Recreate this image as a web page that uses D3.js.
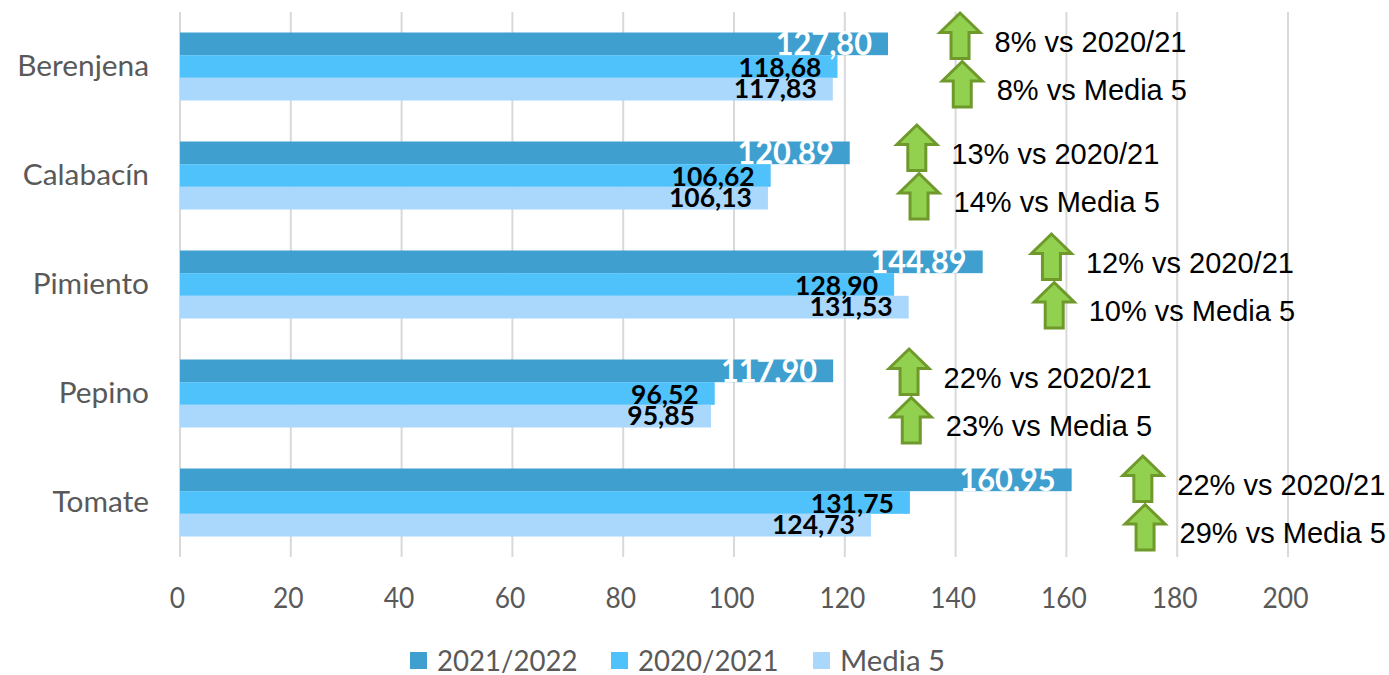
<!DOCTYPE html>
<html><head><meta charset="utf-8">
<script src="https://cdnjs.cloudflare.com/ajax/libs/d3/7.8.5/d3.min.js"></script>
<style>html,body{margin:0;padding:0;background:#fff}svg{display:block}</style>
</head><body><svg id="c" width="1389" height="675"></svg>
<script>
const categories = ["Berenjena","Calabacín","Pimiento","Pepino","Tomate"];
const seriesNames = ["2021/2022","2020/2021","Media 5"];
const v2122 = [127.80,120.89,144.89,117.90,160.95];
const v2021 = [118.68,106.62,128.90,96.52,131.75];
const vMedia = [117.83,106.13,131.53,95.85,124.73];
const pctPrev = [8,13,12,22,22];
const pctMedia = [8,14,10,23,29];
const arrowPrev = [140.8,133.0,157.3,131.6,173.8];
const arrowMedia = [141.2,133.4,157.8,132.0,174.2];
const noteShift = [0,3,3,9,7];
const ticks = [0,20,40,60,80,100,120,140,160,180,200];
const colors = ["#3FA0CF","#4FC1FB","#A9D8FC"];
const labelColors = ["#fff","#000","#000"];

const svg = d3.select("#c");
const L=180,R=1288,T=12,B=557;
const x = d3.scaleLinear().domain([0,200]).range([L,R]);
const y = d3.scaleBand().domain(categories).range([T,B]).paddingInner(41/109).paddingOuter(20.5/109);
const yS = d3.scaleBand().domain(seriesNames).range([0,y.bandwidth()]);
const f = d3.formatLocale({decimal:",",thousands:".",grouping:[3],currency:["","€"]}).format(".2f");
const FONT = "Lato, 'Open Sans', sans-serif";
function condense(sel,k){
  sel.each(function(){
    const t=d3.select(this);
    t.attr("textLength",this.getComputedTextLength()*k).attr("lengthAdjust","spacingAndGlyphs");
  });
}

svg.append("g").selectAll("line").data(ticks).join("line")
  .attr("x1",d=>x(d)).attr("x2",d=>x(d)).attr("y1",T).attr("y2",B)
  .attr("stroke","#D9D9D9").attr("stroke-width",2);

const series = [v2122,v2021,vMedia];
series.forEach((vals,si)=>{
  svg.append("g").selectAll("rect").data(vals).join("rect")
    .attr("x",x(0)).attr("width",d=>x(d)-x(0))
    .attr("y",(d,i)=>y(categories[i])+yS(seriesNames[si]))
    .attr("height",yS.bandwidth()).attr("fill",colors[si]);
});

const ax = svg.append("g").attr("transform",`translate(0,${B})`)
  .call(d3.axisBottom(x).tickValues(ticks).tickSize(0).tickPadding(31).tickFormat(d3.format("d")));
ax.select(".domain").remove();
ax.selectAll("text").attr("font-family",FONT).attr("font-size",28).attr("fill","#595959").attr("dx",-3).call(condense,0.94);

const ay = svg.append("g").attr("transform",`translate(${L},0)`)
  .call(d3.axisLeft(y).tickSize(0).tickPadding(31));
ay.select(".domain").remove();
ay.selectAll("text").attr("font-family",FONT).attr("font-size",28).attr("fill","#595959").attr("dy","0.34em").call(condense,1.065);

const labelBase=[11,10.5,8.5];
series.forEach((vals,si)=>{
  svg.append("g").selectAll("text").data(vals).join("text")
    .attr("x",d=>x(d)-16)
    .attr("y",(d,i)=>y(categories[i])+yS(seriesNames[si])+yS.bandwidth()/2+labelBase[si])
    .attr("text-anchor","end")
    .attr("font-family",FONT).attr("font-weight",700)
    .attr("font-size",si===0?32:26.5)
    .attr("fill",labelColors[si]).text(f)
    .call(condense,si===0?0.96:1.0);
});

const arrow = d3.line()([[0,-22.5],[20,-3],[9,-3],[9,23],[-9,23],[-9,-3],[-20,-3]])+"Z";
function note(val, yc, txt){
  svg.append("path").attr("d",arrow).attr("transform",`translate(${x(val)},${yc})`)
    .attr("fill","#92D050").attr("stroke","#6F9A2B").attr("stroke-width",3);
  svg.append("text").attr("x",x(val)+34.5).attr("y",yc+16)
    .attr("font-family","'Liberation Sans', Arial, sans-serif").attr("font-size",29)
    .attr("fill","#000").text(txt);
}
categories.forEach((c,i)=>{
  const top=y(c)+noteShift[i];
  note(arrowPrev[i],top+3,pctPrev[i]+"% vs 2020/21");
  note(arrowMedia[i],top+51.5,pctMedia[i]+"% vs Media 5");
});

const legendX=d3.scaleOrdinal().domain(seriesNames).range([410,611,813]);
const legendK=[0.985,0.985,1.05];
seriesNames.forEach((n,i)=>{
  const s=legendX(n);
  svg.append("rect").attr("x",s).attr("y",652).attr("width",17).attr("height",17).attr("fill",colors[i]);
  svg.append("text").attr("x",s+27).attr("y",670.5).attr("font-family",FONT).attr("font-size",28).attr("fill","#595959").text(n).call(condense,legendK[i]);
});
</script></body></html>
